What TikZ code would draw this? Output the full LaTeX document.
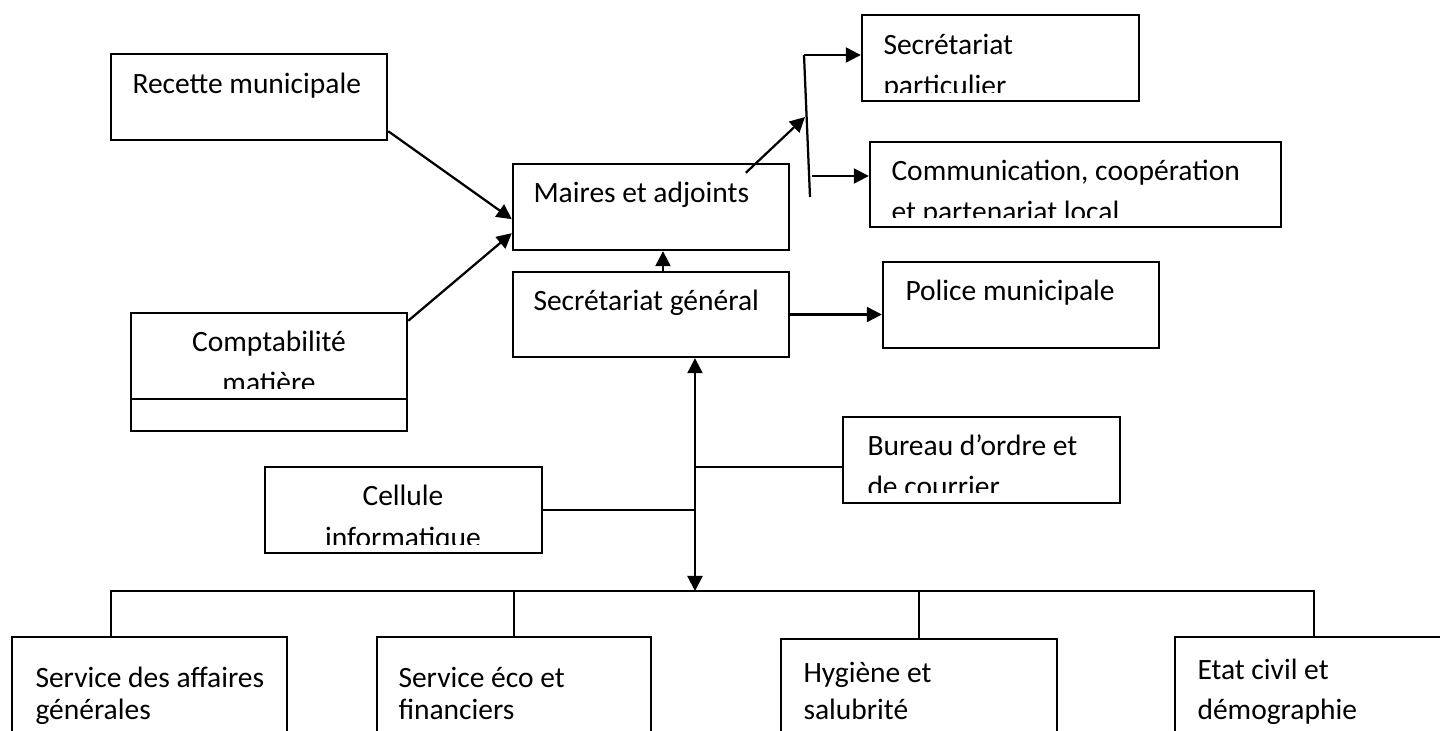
\documentclass[tikz,border=0pt]{standalone}
\usepackage{fontspec}
\setmainfont{Carlito}
\usetikzlibrary{arrows.meta,calc,fit}

\begin{document}
\begin{tikzpicture}[x=0.4pt, y=-0.4pt,
    >={Triangle[length=6pt,width=6pt]},
    box/.style={draw, line width=0.95pt, inner sep=0pt},
    txt/.style={inner sep=0pt, font=\fontsize{11.8}{16.6}\selectfont, align=left},
    lowtxt/.style={inner sep=0pt, font=\fontsize{11.8}{#1}\selectfont, align=left},
    arr/.style={line width=0.9pt, ->},
    link/.style={line width=0.65pt}]
    \useasboundingbox (0,0) rectangle (1440,731);
    \clip (0,0) rectangle (1440,731);

    % Main components
    \node[box, fit={(111,54) (387,140)}] (recette) {};
    \node[box, fit={(513,164) (789,250)}] (maires) {};
    \node[box, fit={(862,15) (1139,101)}] (secpart) {};
    \node[box, fit={(870,142) (1281,227)}] (comm) {};
    \node[box, fit={(513,272) (789,357)}] (secgen) {};
    \node[box, fit={(883,262) (1159,348)}] (police) {};
    \node[box, fit={(131,313) (407,431)}] (compta) {};
    \node[box, fit={(843,417) (1120,503)}] (bureau) {};
    \node[box, fit={(265,467) (542,553)}] (cellule) {};
    \node[box, fit={(12,637) (287,760)}] (affaires) {};
    \node[box, fit={(377,637) (651,760)}] (eco) {};
    \node[box, fit={(781,639) (1057,760)}] (hygiene) {};
    \node[box, fit={(1175,637) (1453,760)}] (etat) {};
    \draw[line width=0.95pt] ($(compta.south west)+(0,-33)$) -- ($(compta.south east)+(0,-33)$);

    % Labels (two-line labels sit on the baseline of their last line)
    \node[txt, anchor=base west] (recette-t) at (132,94) {Recette municipale};
    \node[txt, anchor=base west] (maires-t) at (533,203) {Maires et adjoints};
    \node[txt, anchor=base west] (secgen-t) at (533,311) {Secrétariat général};
    \node[txt, anchor=base west] (police-t) at (905,301) {Police municipale};
    \begin{scope}
        \clip (secpart.north west) rectangle ($(secpart.south east)+(0,-10)$);
        \node[txt, anchor=base west] (secpart-t) at (883,96) {Secrétariat\\particulier};
    \end{scope}
    \begin{scope}
        \clip (comm.north west) rectangle ($(comm.south east)+(0,-11)$);
        \node[txt, anchor=base west] (comm-t) at (891,222) {Communication, coopération\\et partenariat local};
    \end{scope}
    \begin{scope}
        \clip (compta.north west) rectangle ($(compta.south east)+(0,-44)$);
        \node[txt, align=center, anchor=base] (compta-t) at (269,393) {Comptabilité\\matière};
    \end{scope}
    \begin{scope}
        \clip (bureau.north west) rectangle ($(bureau.south east)+(0,-12)$);
        \node[txt, anchor=base west] (bureau-t) at (867,497) {Bureau d’ordre et\\de courrier};
    \end{scope}
    \begin{scope}
        \clip (cellule.north west) rectangle ($(cellule.south east)+(0,-10)$);
        \node[txt, align=center, anchor=base] (cellule-t) at (403,547.5) {Cellule\\informatique};
    \end{scope}
    \node[lowtxt=12.8pt, anchor=base west] (affaires-t) at (35,720) {Service des affaires\\générales};
    \node[lowtxt=12.8pt, anchor=base west] (eco-t) at (398,720) {Service éco et\\financiers};
    \node[lowtxt=14.8pt, anchor=base west] (hygiene-t) at (803,720) {Hygiène et\\salubrité};
    \node[lowtxt=16pt, anchor=base west] (etat-t) at (1197,720) {Etat civil et\\démographie};

    % Arrows
    \coordinate (brtop) at (804,55);
    \coordinate (brmid) at (805,117);
    \coordinate (brlow) at (812,176);
    \coordinate (brend) at (810,197);
    \draw[arr] ($(recette.south east)+(0,-10)$) -- ($(maires.south west)+(0,-32)$);
    \draw[arr] ($(compta.north east)+(0,9)$) -- ($(maires.south west)+(0,-18)$);
    \draw[arr] ($(maires.north west)+(234,10)$) -- (brmid);
    \draw[line width=0.9pt] (brtop) -- (brend);
    \draw[arr] (brtop) -- (brtop -| secpart.west);
    \draw[arr] (brlow) -- (brlow -| comm.west);
    \draw[arr] ($(secgen.north)+(12,0)$) -- ($(maires.south)+(12,0)$);
    \draw[arr] (secgen.east) -- (secgen.east -| police.west);

    % Links to the services
    \coordinate (hub) at (695,591);
    \coordinate (busl) at (111,591);
    \coordinate (burin) at ($(bureau.west)+(0,7)$);
    \draw[line width=0.9pt, <->] (secgen.south -| hub) -- (hub);
    \draw[link] (burin) -- (burin -| hub);
    \draw[link] (cellule.east) -- (cellule.east -| hub);
    \draw[link] (affaires.north west -| busl) -- (busl) -| (etat.north);
    \draw[link] (eco.north) -- (eco.north |- busl);
    \draw[link] (hygiene.north) -- (hygiene.north |- busl);
\end{tikzpicture}
\end{document}
